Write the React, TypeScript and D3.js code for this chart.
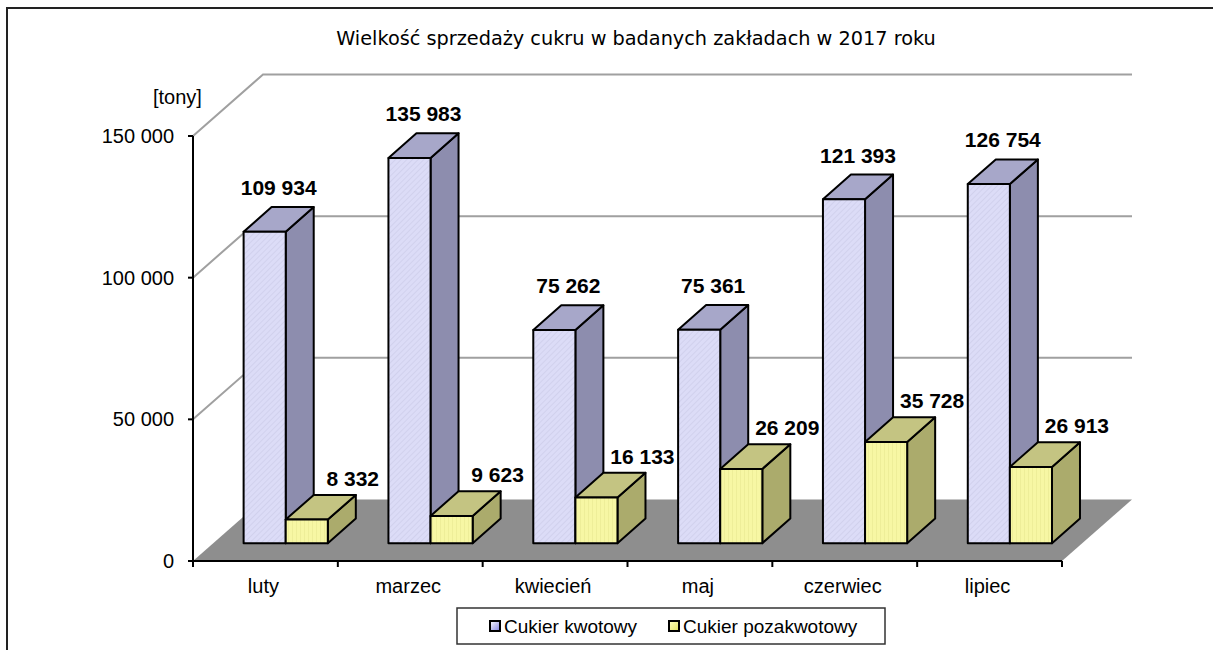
import * as d3 from "d3";
import React from "react";

// sales of sugar, tonnes
const months = ["luty", "marzec", "kwiecień", "maj", "czerwiec", "lipiec"];
const seriesNames = ["Cukier kwotowy", "Cukier pozakwotowy"];
const kwotowy = [109934, 135983, 75262, 75361, 121393, 126754];
const pozakwotowy = [8332, 9623, 16133, 26209, 35728, 26913];
const yTicks = [0, 50000, 100000, 150000];

const W = 1213;
const H = 650;
const DX = 70; // full depth of the 3d box
const DY = -61.5;
const barFront = 0.29; // bars sit inside the floor, at this depth
const barDepth = 0.4;

const fmt = (v: number) => d3.format(",")(v).replace(/,/g, " ");

const faces = [
  { front: "url(#hatchBlue)", side: "#8d8dae", top: "#a7a7c9" },
  { front: "url(#hatchYellow)", side: "#abab6c", top: "#c4c482" },
];

export default function App() {
  const x = d3.scaleBand<string>().domain(months).range([193, 1062]);
  const y = d3.scaleLinear().domain([0, 150000]).range([561, 136]);
  const inner = d3
    .scaleBand<string>()
    .domain(seriesNames)
    .range([0, x.bandwidth()])
    .paddingOuter(0.72);

  const fx = DX * barFront;
  const fy = DY * barFront;
  const bdx = DX * barDepth;
  const bdy = DY * barDepth;
  const data = [kwotowy, pozakwotowy];
  const zeroY = y(0);

  const bars: any[] = [];
  const labels: any[] = [];
  months.forEach((m, i) => {
    seriesNames.forEach((s, k) => {
      const v = data[k][i];
      const x0 = x(m)! + inner(s)! + fx;
      const x1 = x0 + inner.bandwidth();
      const yb = zeroY + fy;
      const yt = y(v) + fy;
      const f = faces[k];
      bars.push(
        <g key={m + s} stroke="#000" strokeWidth={2} strokeLinejoin="round">
          <polygon
            points={`${x1},${yb} ${x1 + bdx},${yb + bdy} ${x1 + bdx},${yt + bdy} ${x1},${yt}`}
            fill={f.side}
          />
          <polygon
            points={`${x0},${yt} ${x1},${yt} ${x1 + bdx},${yt + bdy} ${x0 + bdx},${yt + bdy}`}
            fill={f.top}
          />
          <rect x={x0} y={yt} width={x1 - x0} height={yb - yt} fill={f.front} />
        </g>
      );
      const cx = (x0 + x1) / 2;
      labels.push(
        <text
          key={"l" + m + s}
          x={k === 0 ? cx + 14 : cx + 46}
          y={yt + bdy - (k === 0 ? 12 : 9)}
          textAnchor="middle"
          fontWeight="bold"
          fontSize={21}
        >
          {fmt(v)}
        </text>
      );
    });
  });

  const x0 = 193;
  const x1 = 1062;

  return (
    <svg
      width={W}
      height={H}
      style={{ position: "absolute", left: 0, top: 0 }}
      fontFamily="'Liberation Sans', Arial, sans-serif"
    >
      <defs>
        <pattern id="hatchBlue" width="4" height="4" patternUnits="userSpaceOnUse" patternTransform="rotate(45)">
          <rect width="4" height="4" fill="#dcdcf7" />
          <line x1="0" y1="0" x2="0" y2="4" stroke="#c6c6e4" strokeWidth="1" />
        </pattern>
        <pattern id="hatchYellow" width="4" height="4" patternUnits="userSpaceOnUse">
          <rect width="4" height="4" fill="#f7f7a4" />
          <line x1="0" y1="0" x2="0" y2="4" stroke="#e6e68e" strokeWidth="1" />
        </pattern>
        <linearGradient id="legBlue" x1="0" y1="0" x2="1" y2="1">
          <stop offset="0" stopColor="#ffffff" />
          <stop offset="1" stopColor="#8080e0" />
        </linearGradient>
        <linearGradient id="legYellow" x1="0" y1="0" x2="1" y2="1">
          <stop offset="0" stopColor="#ffffc0" />
          <stop offset="1" stopColor="#e0e060" />
        </linearGradient>
      </defs>

      <rect x={0} y={0} width={W} height={H} fill="#fff" />
      <path d={`M7,${H} V8 H${W}`} fill="none" stroke="#222" strokeWidth={2} />

      <text x={636} y={45} textAnchor="middle" fontSize={19.3} fontFamily="'DejaVu Sans', sans-serif">
        Wielkość sprzedaży cukru w badanych zakładach w 2017 roku
      </text>

      {/* floor */}
      <polygon
        points={`${x0},${zeroY} ${x1},${zeroY} ${x1 + DX},${zeroY + DY} ${x0 + DX},${zeroY + DY}`}
        fill="#8e8e8e"
      />

      {/* walls: gridlines */}
      <g stroke="#a0a0a0" strokeWidth={2} fill="none">
        {yTicks
          .filter((t) => t > 0)
          .map((t) => (
            <path
              key={t}
              d={`M${x0},${y(t)} L${x0 + DX},${y(t) + DY} H${x1 + DX}`}
            />
          ))}
      </g>

      {/* axes */}
      <g stroke="#000" strokeWidth={2}>
        <line x1={x0} x2={x0} y1={y(150000)} y2={zeroY} />
        <line x1={x0} x2={x1} y1={zeroY} y2={zeroY} />
        {yTicks.map((t) => (
          <line key={t} x1={x0 - 5} x2={x0} y1={y(t)} y2={y(t)} />
        ))}
        {months.map((m) => (
          <line key={m} x1={x(m)!} x2={x(m)!} y1={zeroY} y2={zeroY + 6} />
        ))}
        <line x1={x1} x2={x1} y1={zeroY} y2={zeroY + 6} />
      </g>

      {yTicks.map((t) => (
        <text key={t} x={174} y={y(t) + 7} textAnchor="end" fontSize={20}>
          {fmt(t)}
        </text>
      ))}
      <text x={153} y={104} fontSize={20}>
        [tony]
      </text>

      {months.map((m) => (
        <text key={m} x={x(m)! + x.bandwidth() / 2 - 2} y={593} textAnchor="middle" fontSize={20}>
          {m}
        </text>
      ))}

      {bars}
      {labels}

      {/* legend */}
      <rect x={457} y={608} width={428} height={36} fill="#fff" stroke="#333" strokeWidth={1.5} />
      <rect x={490} y={621} width={10} height={10} fill="url(#legBlue)" stroke="#000" strokeWidth={2} />
      <text x={504} y={633} fontSize={19}>
        {seriesNames[0]}
      </text>
      <rect x={669} y={621} width={10} height={10} fill="url(#legYellow)" stroke="#000" strokeWidth={2} />
      <text x={683} y={633} fontSize={19}>
        {seriesNames[1]}
      </text>
    </svg>
  );
}
